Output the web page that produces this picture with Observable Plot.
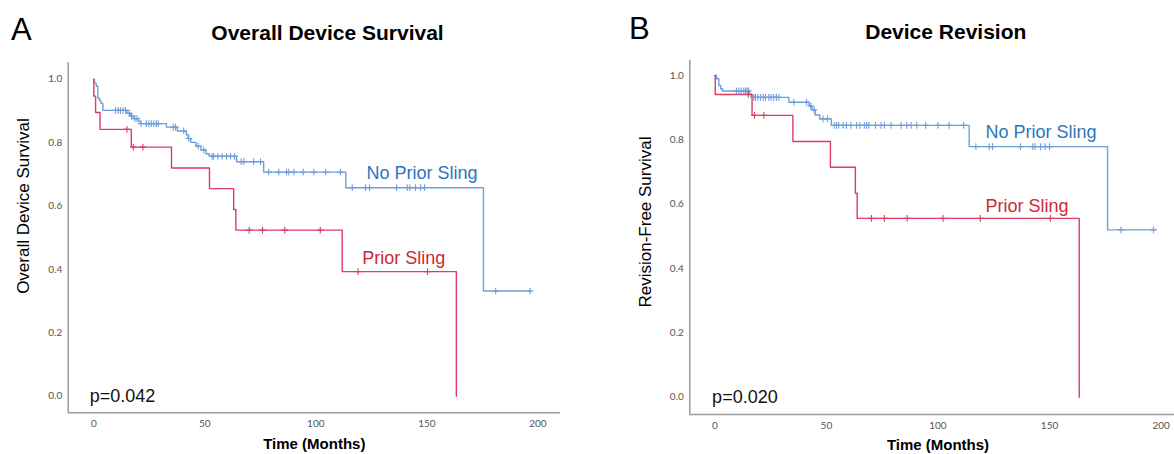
<!DOCTYPE html>
<html><head><meta charset="utf-8">
<script src="https://cdn.jsdelivr.net/npm/d3@7"></script>
<script src="https://cdn.jsdelivr.net/npm/@observablehq/plot@0.6"></script>
<style>
html,body{margin:0;padding:0;background:#fff;}
#wrap{position:relative;width:1174px;height:454px;overflow:hidden;font-family:"Liberation Sans",Arial,sans-serif;}
.abs{position:absolute;white-space:nowrap;line-height:1;}
.panel{position:absolute;top:0;}
</style></head><body><div id="wrap"></div>
<script>
// ---------- shared ----------
const xTicks = [0, 50, 100, 150, 200];
const yTicks = [0, 0.2, 0.4, 0.6, 0.8, 1.0];
const groups = ["No Prior Sling", "Prior Sling"];

// ---------- Panel A: Overall Device Survival ----------
const aNoTimes = [0, 0.3, 1.1, 1.8, 2.6, 3.3, 4.1, 15, 16.5, 18, 20, 21, 32.7, 37.6, 41.7, 42.5, 43.7, 46, 48.3, 50.5, 52, 64.3, 76.5, 113.5, 175.5];
const aNoSurv  = [1, 0.988, 0.978, 0.94, 0.932, 0.924, 0.902, 0.893, 0.884, 0.876, 0.868, 0.86, 0.849, 0.837, 0.825, 0.813, 0.801, 0.789, 0.777, 0.765, 0.757, 0.74, 0.707, 0.658, 0.332];
const aNoEnd = 197;
const aNoCensor = [9.8, 11, 12, 13.2, 14.3, 16, 17, 18.5, 19.5, 21.3, 23.7, 24.8, 25.9, 27, 28.2, 29, 35.8, 36.8, 40.5, 42.8, 47, 49.5, 53.3, 54, 55.9, 57.8, 59.8, 61.6, 63.4, 66.4, 67.6, 72, 75.1, 78.8, 83.3, 86.8, 87.8, 90.1, 94.3, 99.1, 104.4, 111.1, 116.4, 122.4, 124.2, 136.4, 141.2, 142.3, 144.9, 147.2, 149, 181, 196.5];
const aPriorTimes = [0, 0, 0.8, 2.8, 16.9, 35, 52.1, 63, 64, 111.9, 163.3];
const aPriorSurv  = [1, 0.947, 0.895, 0.842, 0.786, 0.72, 0.655, 0.589, 0.524, 0.393, 0];
const aPriorCensor = [14.9, 17.8, 22.1, 70, 76, 86, 102, 119, 150.3];

// ---------- Panel B: Device Revision ----------
const bNoTimes = [0, 0.8, 1.8, 2.6, 3.5, 15.5, 16.3, 33.2, 42.3, 43.6, 45, 47, 52.2, 114, 176];
const bNoSurv  = [1, 0.99, 0.969, 0.959, 0.952, 0.943, 0.932, 0.917, 0.905, 0.893, 0.877, 0.865, 0.845, 0.779, 0.52];
const bNoEnd = 197;
const bNoCensor = [9.7, 10.8, 11.8, 13, 13.8, 14.5, 15.2, 17.5, 18.2, 19.3, 20.5, 21.7, 22.7, 24.2, 25.2, 26.4, 27.6, 28.7, 35.4, 41.1, 43, 44.5, 48.5, 50.5,
  53.5, 54.5, 55.5, 57.5, 59, 61, 63.5, 65, 67, 68, 69, 72, 74.5, 76, 79, 83.5, 86, 88, 90.5, 94.5, 100, 105, 111.5,
  117, 123, 124.5, 137, 142.5, 143.5, 146, 148, 150, 182, 196.6];
const bPriorTimes = [0, 0.2, 16.7, 35, 51.8, 63, 63.8, 163.3];
const bPriorSurv  = [1, 0.941, 0.876, 0.795, 0.715, 0.634, 0.556, 0];
const bPriorCensor = [15, 17.8, 22, 70.2, 76, 86.2, 102.3, 119, 150.4];

// ---------- helpers ----------
const BLUE_LINE = "#6f9fdb", RED_LINE = "#dc3d60";
const BLUE_TEXT = "#2b76be", RED_TEXT = "#cc2a36";

function curve(times, surv, end) {
  const pts = times.map((t, i) => ({t, s: surv[i]}));
  if (end != null) pts.push({t: end, s: surv[surv.length - 1]});
  return pts;
}
function survAt(times, surv, t) {
  let v = surv[0];
  for (let i = 0; i < times.length; i++) if (times[i] <= t) v = surv[i];
  return v;
}
function censorPts(times, surv, cens) {
  return cens.map(t => ({t, s: survAt(times, surv, t)}));
}

const wrap = document.getElementById("wrap");
function addText(txt, o) {
  const d = document.createElement("div");
  d.className = "abs";
  d.textContent = txt;
  const F = o.size;
  d.style.fontSize = F + "px";
  d.style.fontWeight = o.weight || "normal";
  d.style.color = o.color || "#000";
  if (o.family) d.style.fontFamily = o.family;
  if (o.rotate) {
    d.style.left = o.cx + "px";
    d.style.top = o.cy + "px";
    d.style.transform = "translate(-50%,-50%) rotate(-90deg)";
  } else {
    d.style.top = (o.baseline - 0.8465 * F) + "px";
    if (o.anchor === "middle") {
      d.style.left = o.x + "px";
      d.style.transform = "translateX(-50%)";
    } else d.style.left = o.x + "px";
  }
  wrap.appendChild(d);
}

function panel(cfg) {
  const noLine = curve(cfg.noTimes, cfg.noSurv, cfg.noEnd);
  const priorLine = curve(cfg.priorTimes, cfg.priorSurv, null);
  const noC = censorPts(cfg.noTimes, cfg.noSurv, cfg.noCensor);
  const priorC = censorPts(cfg.priorTimes, cfg.priorSurv, cfg.priorCensor);
  const chart = Plot.plot({
    width: cfg.width, height: 454,
    marginLeft: cfg.mL, marginRight: cfg.mR, marginTop: cfg.mT, marginBottom: cfg.mB,
    style: {background: "transparent", overflow: "visible"},
    x: {domain: cfg.xDom, label: null},
    y: {domain: cfg.yDom, label: null},
    marks: [
      Plot.axisX(xTicks, {tickSize: 0, tickPadding: 7, fontSize: 10, fill: "#555", fontFamily: "Lato", label: null}),
      Plot.axisY(yTicks, {tickSize: 0, tickPadding: 6, fontSize: 10, fill: "#555", fontFamily: "Lato", tickFormat: d3.format(".1f"), label: null}),
      Plot.ruleX([cfg.xDom[0]], {stroke: "#9b9b9b", strokeWidth: 1.5}),
      Plot.ruleY([cfg.yDom[0]], {stroke: "#9b9b9b", strokeWidth: 1.5}),
      Plot.line(noLine, {x: "t", y: "s", curve: "step-after", stroke: BLUE_LINE, strokeWidth: 1.4}),
      Plot.line(priorLine, {x: "t", y: "s", curve: "step-after", stroke: RED_LINE, strokeWidth: 1.4}),
      Plot.dot(noC, {x: "t", y: "s", symbol: "plus", r: 2.3, stroke: BLUE_LINE, strokeWidth: 1.1}),
      Plot.dot(priorC, {x: "t", y: "s", symbol: "plus", r: 2.3, stroke: RED_LINE, strokeWidth: 1.1}),
      Plot.text([groups[0]], {x: cfg.noLab[0], y: cfg.noLab[1], text: d => d, textAnchor: "start", lineAnchor: "bottom", fontSize: 18, fill: BLUE_TEXT, fontFamily: "Liberation Sans"}),
      Plot.text([groups[1]], {x: cfg.priorLab[0], y: cfg.priorLab[1], text: d => d, textAnchor: "start", lineAnchor: "bottom", fontSize: 18, fill: RED_TEXT, fontFamily: "Liberation Sans"}),
      Plot.text([cfg.p], {x: cfg.pLab[0], y: cfg.pLab[1], text: d => d, textAnchor: "start", lineAnchor: "bottom", fontSize: 18, fill: "#111", fontFamily: "Liberation Sans"})
    ]
  });
  const div = document.createElement("div");
  div.className = "panel";
  div.style.left = cfg.left + "px";
  div.appendChild(chart);
  wrap.appendChild(div);
}

panel({
  left: 0, width: 587, mL: 67.7, mR: 27, mT: 62, mB: 41.7,
  xDom: [-11.53, 210.2], yDom: [-0.0524, 1.053],
  noTimes: aNoTimes, noSurv: aNoSurv, noEnd: aNoEnd, noCensor: aNoCensor,
  priorTimes: aPriorTimes, priorSurv: aPriorSurv, priorCensor: aPriorCensor,
  noLab: [122.8, 0.686], priorLab: [120.9, 0.418], pLab: [-1.8, -0.018], p: "p=0.042"
});
panel({
  left: 587, width: 587, mL: 102.3, mR: 0, mT: 60, mB: 40,
  xDom: [-11.2, 206], yDom: [-0.0538, 1.0466],
  noTimes: bNoTimes, noSurv: bNoSurv, noEnd: bNoEnd, noCensor: bNoCensor,
  priorTimes: bPriorTimes, priorSurv: bPriorSurv, priorCensor: bPriorCensor,
  noLab: [121.3, 0.806], priorLab: [121.3, 0.577], pLab: [-1.2, -0.0196], p: "p=0.020"
});

// titles, panel letters, axis labels
addText("A", {x: 11, baseline: 40, size: 31});
addText("Overall Device Survival", {x: 327.5, baseline: 39.5, size: 21, weight: "bold", anchor: "middle"});
addText("Overall Device Survival", {rotate: true, cx: 22.5, cy: 206, size: 17});
addText("Time (Months)", {x: 314.3, baseline: 449, size: 15, weight: "bold", anchor: "middle"});

addText("B", {x: 629, baseline: 39, size: 31});
addText("Device Revision", {x: 945.8, baseline: 39, size: 21, weight: "bold", anchor: "middle"});
addText("Revision-Free Survival", {rotate: true, cx: 645, cy: 221.7, size: 17});
addText("Time (Months)", {x: 938, baseline: 450, size: 15, weight: "bold", anchor: "middle"});
</script></body></html>
